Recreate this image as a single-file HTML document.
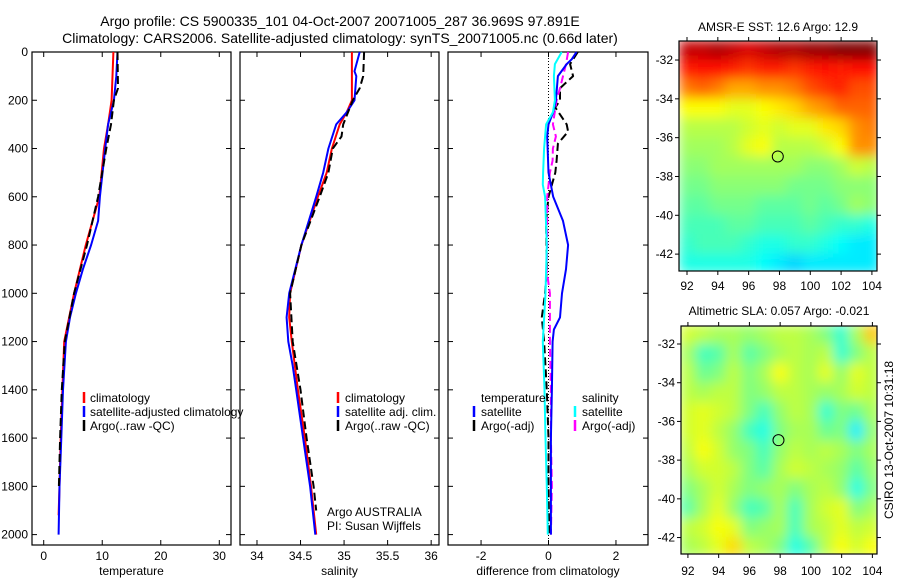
<!DOCTYPE html>
<html><head><meta charset="utf-8"><style>
html,body{margin:0;padding:0;background:#fff;}
svg{display:block;font-family:"Liberation Sans",sans-serif;}
text{fill:#000;}
</style></head><body>
<svg id="fig" width="900" height="580" viewBox="0 0 900 580">
<defs>
<filter id="blur" filterUnits="userSpaceOnUse" x="600" y="0" width="300" height="580"><feGaussianBlur stdDeviation="6" edgeMode="duplicate"/></filter>
<clipPath id="clipA"><rect x="679" y="41" width="198" height="230"/></clipPath>
<clipPath id="clipB"><rect x="681" y="326" width="196" height="228"/></clipPath>
</defs>
<text x="340" y="26" font-size="14" text-anchor="middle">Argo profile: CS 5900335_101 04-Oct-2007 20071005_287 36.969S 97.891E</text>
<text x="340" y="43" font-size="14" text-anchor="middle">Climatology: CARS2006. Satellite-adjusted climatology: synTS_20071005.nc (0.66d later)</text>
<g id="layer"></g>
</svg>
<script>
// ---------- profile data ----------
const tClimDepth=[0,200,300,400,600,800,1000,1200,1400,1600,1800,1920];
const tClimVal=[11.9,11.6,11.0,10.3,9.5,7.2,5.2,3.5,3.2,2.9,2.7,2.55];
const tSatDepth=[0,100,200,300,400,600,700,800,900,1000,1100,1200,1400,1600,1800,2000];
const tSatVal=[12.6,12.4,12.0,11.0,10.5,9.6,9.3,8.1,6.7,5.5,4.5,3.8,3.3,3.0,2.7,2.55];
const tArgoDepth=[0,150,200,300,400,500,600,800,1000,1200,1400,1600,1800];
const tArgoVal=[12.6,12.7,12.0,11.5,10.7,10.0,9.3,7.4,5.2,3.6,3.1,2.8,2.6];

const sClimDepth=[0,200,250,300,400,500,600,800,1000,1100,1200,1400,1600,1800,2000];
const sClimVal=[35.09,35.09,35.03,34.95,34.86,34.80,34.70,34.51,34.38,34.37,34.40,34.47,34.55,34.62,34.68];
const sSatDepth=[0,80,100,200,250,300,400,500,600,800,1000,1100,1200,1300,1400,1600,1800,2000];
const sSatVal=[35.18,35.12,35.14,35.12,35.03,34.91,34.82,34.76,34.68,34.51,34.37,34.34,34.36,34.41,34.45,34.53,34.61,34.67];
const sArgoDepth=[0,100,150,200,300,350,400,500,600,800,1000,1200,1400,1600,1800,1900];
const sArgoVal=[35.23,35.22,35.18,35.10,34.99,34.97,34.87,34.82,34.72,34.51,34.38,34.41,34.50,34.57,34.65,34.68];

const dTSatDepth=[0,30,50,100,200,250,300,350,500,600,700,800,900,1000,1100,1150,1200,1400,1600,1800,2000];
const dTSatVal=[0.83,0.69,0.54,0.28,0.22,0.14,0.0,-0.04,0.0,0.14,0.43,0.58,0.52,0.40,0.34,0.16,0.12,0.10,0.07,0.07,0.07];
const dTArgoDepth=[0,50,100,150,200,230,300,330,380,450,500,600,700,900,1000,1100,1200,1400,1600,1800,2000];
const dTArgoVal=[0.87,0.64,0.73,0.34,0.34,0.20,0.54,0.58,0.28,0.24,0.20,0.0,-0.07,-0.05,-0.10,-0.20,-0.13,-0.05,0.0,0.0,0.02];
const dSSatDepth=[0,50,100,200,250,300,400,500,550,600,800,1000,1200,1400,1600,1800,2000];
const dSSatVal=[0.39,0.19,0.16,0.19,0.13,-0.07,-0.13,-0.16,-0.17,-0.10,-0.05,-0.09,-0.17,-0.12,-0.09,-0.05,-0.02];
const dSArgoDepth=[0,50,100,150,200,300,350,400,450,500,600,800,900,1000,1200,1400,1600,1800,2000];
const dSArgoVal=[0.58,0.52,0.43,0.34,0.24,0.13,0.22,0.13,0.12,0.04,-0.04,-0.04,-0.06,0.04,0.04,0.07,0.07,0.10,0.07];

const depthTicks=[0,200,400,600,800,1000,1200,1400,1600,1800,2000];
const tempTicks=[0,10,20,30];
const salTicks=[34,34.5,35,35.5,36];
const diffTicks=[-2,0,2];

// ---------- map data ----------
const mapLats=[-31.5,-32.5,-33.5,-34.5,-35.5,-36.5,-37.5,-38.5,-39.5,-40.5,-41.5,-42.5];
const mapLons=[92,93,94,95,96,97,98,99,100,101,102,103,104];
const sstGrid=[
[15.2,15.2,15.3,15.2,15.1,15.2,15.3,15.3,15.4,15.4,15.5,15.5,15.5],
[14.8,14.9,14.9,14.8,14.7,14.8,14.8,14.7,14.8,14.9,14.8,14.9,14.9],
[14.4,14.5,14.4,14.2,14.2,14.3,14.3,14.4,14.6,14.7,14.8,14.6,14.6],
[13.8,13.8,13.8,13.7,13.7,13.8,13.9,14.0,14.2,14.3,14.5,14.5,14.5],
[13.5,13.5,13.5,13.5,13.6,13.7,13.6,13.7,13.7,13.9,14.0,14.3,14.4],
[13.4,13.4,13.4,13.5,13.7,13.8,13.5,13.5,13.5,13.6,13.8,14.3,14.3],
[13.3,13.3,13.4,13.4,13.4,13.4,13.4,13.4,13.3,13.3,13.4,13.6,13.5],
[13.2,13.2,13.3,13.3,13.3,13.3,13.3,13.2,13.2,13.2,13.3,13.3,13.3],
[13.1,13.1,13.2,13.2,13.2,13.1,13.1,13.1,13.2,13.1,13.2,13.4,13.3],
[13.0,13.0,13.0,13.1,13.1,13.0,13.0,13.0,13.1,13.0,12.9,12.9,12.8],
[12.9,13.0,13.0,13.0,12.9,12.8,12.8,12.9,12.9,12.8,12.7,12.6,12.6],
[12.8,12.8,12.8,12.8,12.8,12.7,12.6,12.5,12.6,12.6,12.6,12.6,12.6]];
const slaGrid=[
[0.04,0.03,0.02,0.02,0.01,0.02,0.03,0.03,0.02,0.0,-0.04,0.02,0.09],
[0.02,-0.03,-0.02,0.02,-0.02,0.0,0.02,0.03,0.02,0.03,-0.04,0.0,0.03],
[0.03,-0.01,0.0,0.03,0.0,0.02,0.06,0.03,0.02,0.05,0.01,0.05,0.03],
[0.03,0.02,0.03,0.03,0.0,0.01,0.03,0.03,0.02,0.01,0.02,0.04,0.03],
[0.04,0.05,0.04,0.03,0.0,-0.03,0.01,0.03,0.02,-0.04,0.0,-0.01,0.02],
[0.04,0.05,0.03,0.01,-0.03,-0.05,0.0,0.02,0.02,-0.01,0.0,-0.07,0.01],
[0.03,0.06,0.04,0.01,0.0,-0.03,0.01,0.03,0.02,0.03,0.02,0.0,0.02],
[0.02,0.04,0.04,0.03,0.0,-0.02,0.02,0.04,0.03,0.02,0.01,-0.02,0.01],
[0.0,0.02,0.04,0.02,0.0,0.01,0.02,0.0,0.02,0.03,0.01,-0.05,0.0],
[-0.02,0.02,0.05,0.01,-0.03,-0.02,0.02,-0.03,0.02,0.04,0.05,0.0,0.02],
[0.03,0.04,0.06,0.05,0.0,0.01,0.02,-0.03,0.02,0.03,0.05,0.03,0.04],
[0.02,0.03,0.05,0.08,0.03,0.02,0.0,-0.05,-0.02,0.03,0.06,0.04,0.06]];
const latTicks=[-32,-34,-36,-38,-40,-42];
const lonTicks=[92,94,96,98,100,102,104];
const argoLon=97.891, argoLat=-36.969;

const NS="http://www.w3.org/2000/svg";
const layer=document.getElementById('layer');
function mk(tag,attrs,parent){const e=document.createElementNS(NS,tag);for(const k in attrs)e.setAttribute(k,attrs[k]);(parent||layer).appendChild(e);return e;}

const yTop=52, pxPerM=0.2413;
function yD(d){return yTop+d*pxPerM;}

function panel(name,left,right,vmin,vmax,ticks,xlabel,showY){
  const g=mk('g',{});
  
  
  const xs=v=>left+(v-vmin)/(vmax-vmin)*(right-left);
  const r=mk('rect',{x:left,y:yTop,width:right-left,height:545-yTop,fill:'none',stroke:'#000','stroke-width':1.2},g);
  
  
  depthTicks.forEach(d=>{
    const y=yD(d);
    mk('line',{x1:left,x2:left+5,y1:y,y2:y,stroke:'#000'},g);
    mk('line',{x1:right,x2:right-5,y1:y,y2:y,stroke:'#000'},g);
    if(showY){const t=mk('text',{x:left-4,y:y+4,'font-size':12,'text-anchor':'end'},g);t.textContent=d;
      
      }
  });
  ticks.forEach(v=>{
    const x=xs(v);
    mk('line',{x1:x,x2:x,y1:545,y2:540,stroke:'#000'},g);
    mk('line',{x1:x,x2:x,y1:yTop,y2:yTop+5,stroke:'#000'},g);
    const t=mk('text',{x:x,y:560,'font-size':12,'text-anchor':'middle'},g);t.textContent=v;
    
    
  });
  const xl=mk('text',{x:(left+right)/2,y:575,'font-size':12,'text-anchor':'middle'},g);xl.textContent=xlabel;
  
  
  return {g,xs};
}
function series(p,depths,vals,color,dash,name){
  const pts=depths.map((d,i)=>p.xs(vals[i]).toFixed(1)+','+yD(d).toFixed(1)).join(' ');
  const a={points:pts,fill:'none',stroke:color,'stroke-width':2,'stroke-linejoin':'round'};
  if(dash)a['stroke-dasharray']=dash;
  const l=mk('polyline',a,p.g);
  
  
}
function legendText(g,x,y,txt,name){
  const t=mk('text',{x:x,y:y,'font-size':12},g);t.textContent=txt;
  
  
}
function legendMark(g,x,y,color,name){
  const l=mk('line',{x1:x,x2:x,y1:y-10,y2:y+1,stroke:color,'stroke-width':2.5},g);
  
  
}

// Panel 1
const p1=panel('temperature-panel',32,231,-2,32,tempTicks,'temperature',true);
series(p1,tClimDepth,tClimVal,'#f00',null,'temperature-climatology-line');
series(p1,tSatDepth,tSatVal,'#00f',null,'temperature-satellite-line');
series(p1,tArgoDepth,tArgoVal,'#000','8,4','temperature-argo-line');
legendMark(p1.g,84,402,'#f00','legend-climatology-marker');legendText(p1.g,90,402,'climatology','legend-climatology');
legendMark(p1.g,84,416,'#00f','legend-satellite-marker');legendText(p1.g,90,416,'satellite-adjusted climatology','legend-satellite');
legendMark(p1.g,84,430,'#000','legend-argo-marker');legendText(p1.g,90,430,'Argo(..raw -QC)','legend-argo');

// Panel 2
const p2=panel('salinity-panel',240,439,33.805,36.09,salTicks,'salinity',false);
series(p2,sClimDepth,sClimVal,'#f00',null,'salinity-climatology-line');
series(p2,sSatDepth,sSatVal,'#00f',null,'salinity-satellite-line');
series(p2,sArgoDepth,sArgoVal,'#000','8,4','salinity-argo-line');
legendMark(p2.g,338,402,'#f00','legend2-climatology-marker');legendText(p2.g,345,402,'climatology','legend2-climatology');
legendMark(p2.g,338,416,'#00f','legend2-satellite-marker');legendText(p2.g,345,416,'satellite adj. clim.','legend2-satellite');
legendMark(p2.g,338,430,'#000','legend2-argo-marker');legendText(p2.g,345,430,'Argo(..raw -QC)','legend2-argo');
legendText(p2.g,327,516,'Argo AUSTRALIA','argo-australia-label');
legendText(p2.g,327,530,'PI: Susan Wijffels','pi-label');

// Panel 3
const p3=panel('difference-panel',448,648,-2.98,2.95,diffTicks,'difference from climatology',false);
const z=mk('line',{x1:p3.xs(0),x2:p3.xs(0),y1:yTop,y2:545,stroke:'#000','stroke-width':1,'stroke-dasharray':'1,2'},p3.g);


series(p3,dTArgoDepth,dTArgoVal,'#000','8,4','diff-temperature-argo-line');
series(p3,dSArgoDepth,dSArgoVal,'#f0f','8,4','diff-salinity-argo-line');
series(p3,dTSatDepth,dTSatVal,'#00f',null,'diff-temperature-satellite-line');
series(p3,dSSatDepth,dSSatVal,'#0ff',null,'diff-salinity-satellite-line');
legendText(p3.g,481,402,'temperature','legend3-temperature-header');
legendMark(p3.g,474,416,'#00f','legend3-tsat-marker');legendText(p3.g,481,416,'satellite','legend3-temperature-satellite');
legendMark(p3.g,474,430,'#000','legend3-targo-marker');legendText(p3.g,481,430,'Argo(-adj)','legend3-temperature-argo');
legendText(p3.g,582,402,'salinity','legend3-salinity-header');
legendMark(p3.g,575,416,'#0ff','legend3-ssat-marker');legendText(p3.g,582,416,'satellite','legend3-salinity-satellite');
legendMark(p3.g,575,430,'#f0f','legend3-sargo-marker');legendText(p3.g,582,430,'Argo(-adj)','legend3-salinity-argo');

// ---------- maps ----------
function jet(t){t=Math.max(0,Math.min(1,t));
  const r=Math.max(0,Math.min(1,1.5-Math.abs(4*t-3)));
  const g=Math.max(0,Math.min(1,1.5-Math.abs(4*t-2)));
  const b=Math.max(0,Math.min(1,1.5-Math.abs(4*t-1)));
  return 'rgb('+Math.round(r*255)+','+Math.round(g*255)+','+Math.round(b*255)+')';}
function mapPanel(name,L,T,R,B,lat0,lat1,lon0,lon1,grid,cmin,cmax,clip,title,titleY,xlabY){
  const g=mk('g',{});
  
  
  const xs=lon=>L+(lon-lon0)/(lon1-lon0)*(R-L);
  const ys=lat=>T+(lat0-lat)/(lat0-lat1)*(B-T);
  const cg=mk('g',{'clip-path':'url(#'+clip+')'},g);
  const hg=mk('g',{filter:'url(#blur)'},cg);
  mapLats.forEach((la,i)=>mapLons.forEach((lo,j)=>{
    const x0=xs(lo-0.5),x1=xs(lo+0.5),y0=ys(la+0.5),y1=ys(la-0.5);
    const c=mk('rect',{x:x0-0.5,y:y0-0.5,width:x1-x0+1,height:y1-y0+1,fill:jet((grid[i][j]-cmin)/(cmax-cmin))},hg);
    
    
  }));
  const fr=mk('rect',{x:L,y:T,width:R-L,height:B-T,fill:'none',stroke:'#000','stroke-width':1.2},g);
  
  
  latTicks.forEach(la=>{const y=ys(la);
    mk('line',{x1:L,x2:L-4,y1:y,y2:y,stroke:'#000'},g);
    mk('line',{x1:R,x2:R+4,y1:y,y2:y,stroke:'#000'},g);
    const t=mk('text',{x:L-6,y:y+4,'font-size':12,'text-anchor':'end'},g);t.textContent=la;
    
    });
  lonTicks.forEach(lo=>{const x=xs(lo);
    mk('line',{x1:x,x2:x,y1:B,y2:B+4,stroke:'#000'},g);
    mk('line',{x1:x,x2:x,y1:T,y2:T-4,stroke:'#000'},g);
    const t=mk('text',{x:x,y:xlabY,'font-size':12,'text-anchor':'middle'},g);t.textContent=lo;
    
    });
  const c=mk('circle',{cx:xs(argoLon),cy:ys(argoLat),r:5.5,fill:'none',stroke:'#000','stroke-width':1},g);
  
  
  const tt=mk('text',{x:(L+R)/2,y:titleY,'font-size':12,'text-anchor':'middle'},g);tt.textContent=title;
  
  
}
mapPanel('sst-map',679,41,877,271,-31.02,-42.87,91.48,104.33,sstGrid,11.0,15.5,'clipA','AMSR-E SST: 12.6 Argo: 12.9',31,290);
mapPanel('sla-map',681,326,877,554,-31.07,-42.85,91.55,104.3,slaGrid,-0.25,0.25,'clipB','Altimetric SLA: 0.057 Argo: -0.021',315,575);
const cs=mk('text',{x:0,y:0,'font-size':12,'text-anchor':'middle',transform:'translate(893,440) rotate(-90)'});
cs.textContent='CSIRO 13-Oct-2007 10:31:18';


</script>
</body></html>
